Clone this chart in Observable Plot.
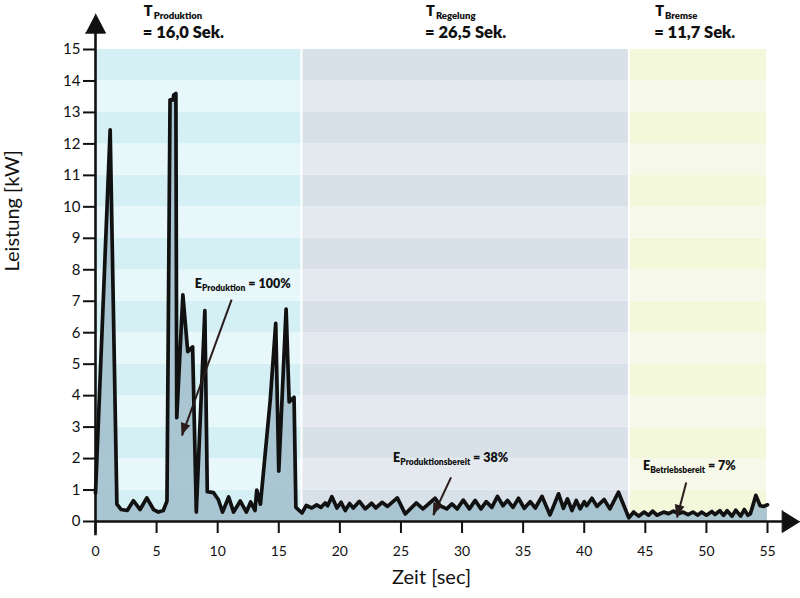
<!DOCTYPE html>
<html><head><meta charset="utf-8">
<script src="https://cdn.jsdelivr.net/npm/d3@7"></script>
<script src="https://cdn.jsdelivr.net/npm/@observablehq/plot@0.6"></script>
<style>body{margin:0;background:#fff}</style>
</head><body><div id="chart"></div>
<script>
// ---- data ----
const zeit = [0,1.2,1.75,2.1,2.6,3.1,3.65,4.2,4.75,5.15,5.55,5.85,6.1,6.35,6.4,6.58,6.65,7.15,7.55,7.95,8.25,8.95,9.15,9.65,10.05,10.4,10.9,11.3,11.85,12.35,12.7,13.05,13.2,13.5,14.3,14.75,15.0,15.6,15.85,16.25,16.4,16.9,
  17.25,17.7,18.1,18.45,18.8,19.0,19.35,19.76,20.1,20.44,20.8,21.1,21.6,22.08,22.6,22.95,23.45,23.9,24.7,25.35,26.25,26.8,27.8,28.2,28.75,29.17,29.6,30.1,30.6,31.08,31.55,31.98,32.44,32.9,33.35,33.72,34.17,34.62,35.09,35.58,36.0,36.54,37.2,37.9,38.3,38.63,39.0,39.35,39.67,40.0,40.2,40.63,41.04,41.63,42.1,42.8,43.65,
  44.05,44.45,44.9,45.27,45.6,45.95,46.5,46.9,47.3,47.7,48.1,48.5,48.9,49.3,49.6,50.0,50.45,50.7,51.1,51.4,51.7,52.1,52.4,52.8,53.1,53.4,53.6,54.05,54.4,54.7,55.0];
const leistung = [0.9,12.45,0.55,0.38,0.35,0.66,0.38,0.75,0.38,0.3,0.35,0.65,13.4,13.4,13.55,13.6,3.3,7.2,5.4,5.55,0.3,6.7,0.95,0.92,0.7,0.3,0.78,0.3,0.65,0.3,0.62,0.35,1.0,0.55,3.85,6.3,1.6,6.75,3.8,3.95,0.45,0.27,
  0.51,0.43,0.53,0.45,0.59,0.5,0.79,0.43,0.61,0.35,0.57,0.43,0.64,0.4,0.58,0.43,0.61,0.48,0.75,0.24,0.59,0.4,0.74,0.5,0.4,0.56,0.4,0.68,0.4,0.67,0.4,0.63,0.45,0.8,0.5,0.67,0.45,0.74,0.42,0.63,0.43,0.8,0.21,0.88,0.42,0.72,0.35,0.67,0.4,0.63,0.5,0.74,0.48,0.7,0.4,0.93,0.12,
  0.3,0.17,0.3,0.2,0.33,0.2,0.3,0.25,0.33,0.25,0.3,0.22,0.3,0.2,0.3,0.2,0.32,0.22,0.34,0.2,0.34,0.17,0.36,0.17,0.38,0.2,0.25,0.83,0.5,0.48,0.53];

const phasen = ["Produktion", "Regelung", "Bremse"];
const phasenStart = [0, 16.9, 43.7];
const phasenEnde = [16.9, 43.7, 55];
const phasenDauer = ["16,0", "26,5", "11,7"];

const energieName = ["Produktion", "Produktionsbereit", "Betriebsbereit"];
const energieAnteil = ["100%", "38%", "7%"];

const xTicks = [0, 5, 10, 15, 20, 25, 30, 35, 40, 45, 50, 55];
const yTicks = [0, 1, 2, 3, 4, 5, 6, 7, 8, 9, 10, 11, 12, 13, 14, 15];

// ---- layout / style (not data) ----
const palette = {
  bands: [["#d4f0f5", "#e7f7fa"], ["#d9e1e8", "#e4e9f0"], ["#f3f8da", "#f6f9e9"]],
  area: "#a5c1ce",
  line: "#111111",
  arrow: "#2b1c1c"
};
const headerX = [4.0, 27.1, 45.85];
const annotText = [[8.17, 7.4], [24.4, 1.88], [44.85, 1.62]];
const annotArrow = [[11.14, 7.05, 7.08, 2.73], [29.1, 1.4, 27.65, 0.2], [48.35, 1.24, 47.6, 0.13]];

const data = zeit.map((t, i) => ({t, kw: leistung[i]}));
const bands = [];
phasen.forEach((p, i) => {
  for (let k = 0; k < yTicks[yTicks.length - 1]; k++)
    bands.push({x1: phasenStart[i], x2: phasenEnde[i], y1: k, y2: k + 1, fill: palette.bands[i][k % 2]});
});
const arrows = annotArrow.map(a => ({x1: a[0], y1: a[1], x2: a[2], y2: a[3]}));

const xMax = xTicks[xTicks.length - 1], yMax = yTicks[yTicks.length - 1];
const yHead = [{x: -0.82, y: yMax + 0.52}, {x: 0.82, y: yMax + 0.52}, {x: 0, y: yMax + 1.13}];
const xHead = [{x: xMax + 1.2, y: 0.35}, {x: xMax + 1.2, y: -0.35}, {x: xMax + 2.65, y: 0}];

const chart = Plot.plot({
  width: 800, height: 598,
  marginLeft: 95, marginRight: 33, marginTop: 49, marginBottom: 77,
  x: {domain: [0, xMax]},
  y: {domain: [0, yMax]},
  style: {fontFamily: "Lato, sans-serif", background: "#fff", overflow: "visible", color: "#111"},
  marks: [
    Plot.rect(bands, {x1: "x1", x2: "x2", y1: "y1", y2: "y2", fill: "fill", insetLeft: 1, insetRight: 1}),
    Plot.areaY(data, {x: "t", y: "kw", fill: palette.area, fillOpacity: 0.92}),
    Plot.lineY(data, {x: "t", y: "kw", stroke: palette.line, strokeWidth: 3.7, strokeLinejoin: "round"}),
    Plot.axisY({ticks: yTicks, tickSize: 12, tickPadding: 3, fontSize: 15, strokeWidth: 2, label: null, tickFormat: d => d}),
    Plot.axisX({ticks: xTicks, tickSize: 12, tickPadding: 13, fontSize: 14, strokeWidth: 2, label: null, tickFormat: d => d}),
    Plot.ruleY([0], {x1: 0, x2: xMax + 1.3, strokeWidth: 2.6, stroke: "#111"}),
    Plot.ruleX([0], {y1: -0.45, y2: yMax + 0.6, strokeWidth: 2.6, stroke: "#111"}),
    Plot.line(yHead, {x: "x", y: "y", fill: "#111", stroke: "#111", strokeWidth: 1}),
    Plot.line(xHead, {x: "x", y: "y", fill: "#111", stroke: "#111", strokeWidth: 1}),
    Plot.link(arrows, {x1: "x1", y1: "y1", x2: "x2", y2: "y2", stroke: palette.arrow, strokeWidth: 2}),
    Plot.text(["Zeit [sec]"], {frameAnchor: "bottom", dy: 62, fontSize: 20}),
    Plot.text(["Leistung [kW]"], {frameAnchor: "left", dx: -83, dy: -14, rotate: -90, fontSize: 20})
  ]
});
document.getElementById("chart").appendChild(chart);

// headers, annotations with subscripts and filled arrowheads (positioned via the plot's scales)
const svg = d3.select(chart);
const sx = chart.scale("x"), sy = chart.scale("y");
const frameTop = sy.apply(yMax);
phasen.forEach((p, i) => {
  const x = sx.apply(headerX[i]);
  const t = svg.append("text").attr("x", x).attr("y", frameTop - 33).attr("text-anchor", "start")
    .attr("font-weight", 800).attr("fill", "#111");
  t.append("tspan").attr("font-size", 14.5).text("T");
  t.append("tspan").attr("font-size", 9.5).attr("dy", 3).attr("dx", 1).text(p);
  svg.append("text").attr("x", x - 1).attr("y", frameTop - 11).attr("text-anchor", "start")
    .attr("font-weight", 800).attr("font-size", 16.5).attr("fill", "#111").text(`= ${phasenDauer[i]} Sek.`);
});
energieName.forEach((n, i) => {
  const t = svg.append("text").attr("x", sx.apply(annotText[i][0])).attr("y", sy.apply(annotText[i][1]))
    .attr("text-anchor", "start").attr("font-weight", 800).attr("fill", "#111");
  t.append("tspan").attr("font-size", 12.5).text("E");
  t.append("tspan").attr("font-size", 8.5).attr("dy", 3).text(n);
  t.append("tspan").attr("font-size", 12.5).attr("dy", -3).text(` = ${energieAnteil[i]}`);
});
arrows.forEach(a => {
  const X1 = sx.apply(a.x1), Y1 = sy.apply(a.y1), X2 = sx.apply(a.x2), Y2 = sy.apply(a.y2);
  const L = Math.hypot(X2 - X1, Y2 - Y1), ux = (X2 - X1) / L, uy = (Y2 - Y1) / L;
  const hl = 12, hw = 5;
  const bx = X2 - ux * hl, by = Y2 - uy * hl;
  svg.append("path")
    .attr("d", `M${X2},${Y2}L${bx - uy * hw},${by + ux * hw}L${bx + uy * hw},${by - ux * hw}Z`)
    .attr("fill", palette.arrow);
});
</script>
</body></html>
